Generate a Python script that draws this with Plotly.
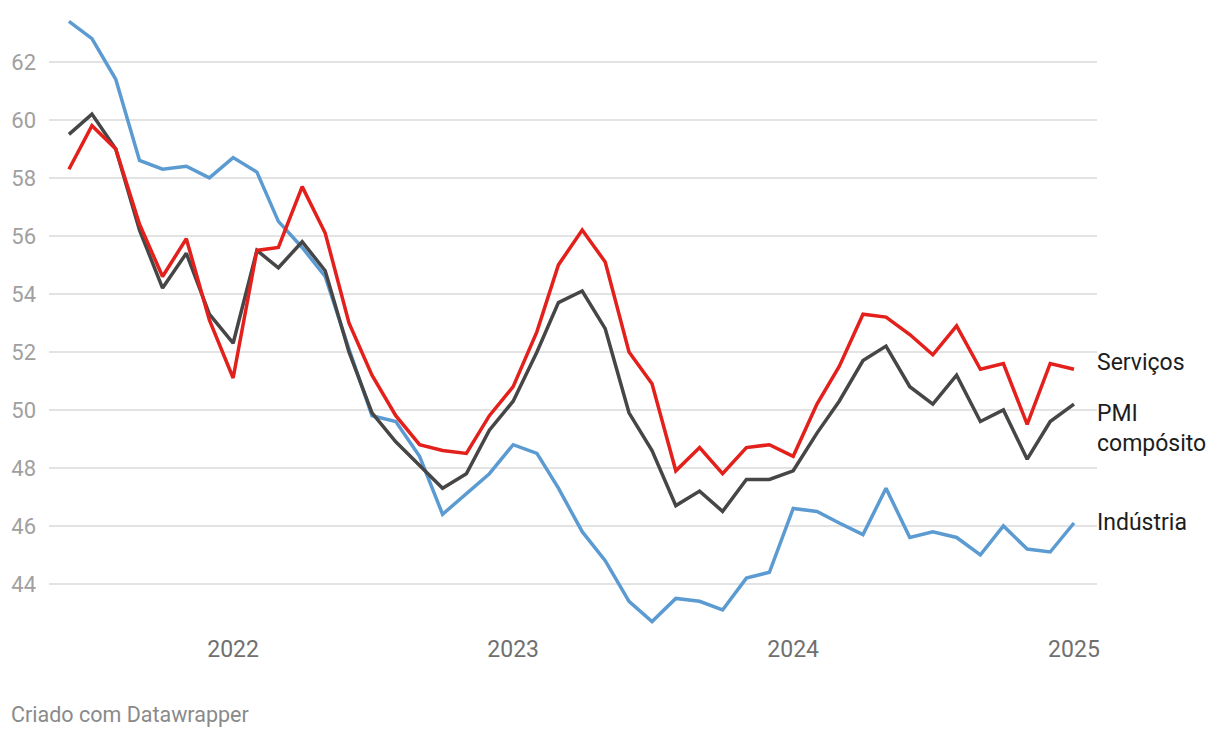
import plotly.graph_objects as go
import pandas as pd

months = pd.date_range("2021-06-01", "2025-01-01", freq="MS")

industria = [63.4, 62.8, 61.4, 58.6, 58.3, 58.4, 58.0, 58.7, 58.2, 56.5,
             55.6, 54.6, 52.1, 49.8, 49.6, 48.4, 46.4, 47.1, 47.8, 48.8,
             48.5, 47.3, 45.8, 44.8, 43.4, 42.7, 43.5, 43.4, 43.1, 44.2,
             44.4, 46.6, 46.5, 46.1, 45.7, 47.3, 45.6, 45.8, 45.6, 45.0,
             46.0, 45.2, 45.1, 46.1]
servicos = [58.3, 59.8, 59.0, 56.4, 54.6, 55.9, 53.1, 51.1, 55.5, 55.6,
            57.7, 56.1, 53.0, 51.2, 49.8, 48.8, 48.6, 48.5, 49.8, 50.8,
            52.7, 55.0, 56.2, 55.1, 52.0, 50.9, 47.9, 48.7, 47.8, 48.7,
            48.8, 48.4, 50.2, 51.5, 53.3, 53.2, 52.6, 51.9, 52.9, 51.4,
            51.6, 49.5, 51.6, 51.4]
composito = [59.5, 60.2, 59.0, 56.2, 54.2, 55.4, 53.3, 52.3, 55.5, 54.9,
             55.8, 54.8, 52.0, 49.9, 48.9, 48.1, 47.3, 47.8, 49.3, 50.3,
             52.0, 53.7, 54.1, 52.8, 49.9, 48.6, 46.7, 47.2, 46.5, 47.6,
             47.6, 47.9, 49.2, 50.3, 51.7, 52.2, 50.8, 50.2, 51.2, 49.6,
             50.0, 48.3, 49.6, 50.2]

y_ticks = [44, 46, 48, 50, 52, 54, 56, 58, 60, 62]
x_tick_dates = ["2022-01-01", "2023-01-01", "2024-01-01", "2025-01-01"]
x_tick_text = ["2022", "2023", "2024", "2025"]

C_IND = "#5b9bd1"
C_SER = "#e3201b"
C_COM = "#464646"
FONT = "Roboto"

fig = go.Figure()
for name, vals, col in [("Indústria", industria, C_IND),
                        ("PMI compósito", composito, C_COM),
                        ("Serviços", servicos, C_SER)]:
    fig.add_trace(go.Scatter(x=months, y=vals, mode="lines", name=name,
                             line=dict(color=col, width=3.5),
                             hoverinfo="x+y"))

labels = [("Serviços", servicos[-1], 7), ("PMI<br>compósito", composito[-1], -24),
          ("Indústria", industria[-1], 0)]
for text, yv, ys in labels:
    fig.add_annotation(x=1, xref="paper", y=yv, yref="y", text=text,
                       showarrow=False, xanchor="left", yanchor="middle",
                       xshift=-2, yshift=ys, align="left",
                       font=dict(family=FONT, size=23, color="#1d1d1d"))

fig.add_annotation(x=0, xref="paper", xshift=-40, y=0, yref="paper", yshift=-84,
                   text="Criado com Datawrapper", showarrow=False,
                   xanchor="left", yanchor="middle",
                   font=dict(family=FONT, size=21.5, color="#8a8a8a"))

fig.update_layout(
    width=1204, height=722,
    margin=dict(l=41, r=115, t=2, b=100),
    paper_bgcolor="white", plot_bgcolor="white",
    showlegend=False,
    font=dict(family=FONT),
    xaxis=dict(range=["2021-05-06", "2025-01-31"], tickvals=x_tick_dates,
               ticktext=x_tick_text, showgrid=False, zeroline=False,
               showline=False, ticks="", ticklabelstandoff=3,
               tickfont=dict(family=FONT, size=23, color="#707070")),
    yaxis=dict(range=[42.41, 63.79], tickvals=y_ticks, showgrid=True,
               gridcolor="#e3e3e3", gridwidth=1.5, zeroline=False,
               showline=False, ticks="", ticklabelstandoff=12,
               tickfont=dict(family=FONT, size=22, color="#a0a0a0")),
)

fig.write_html("out.html")
